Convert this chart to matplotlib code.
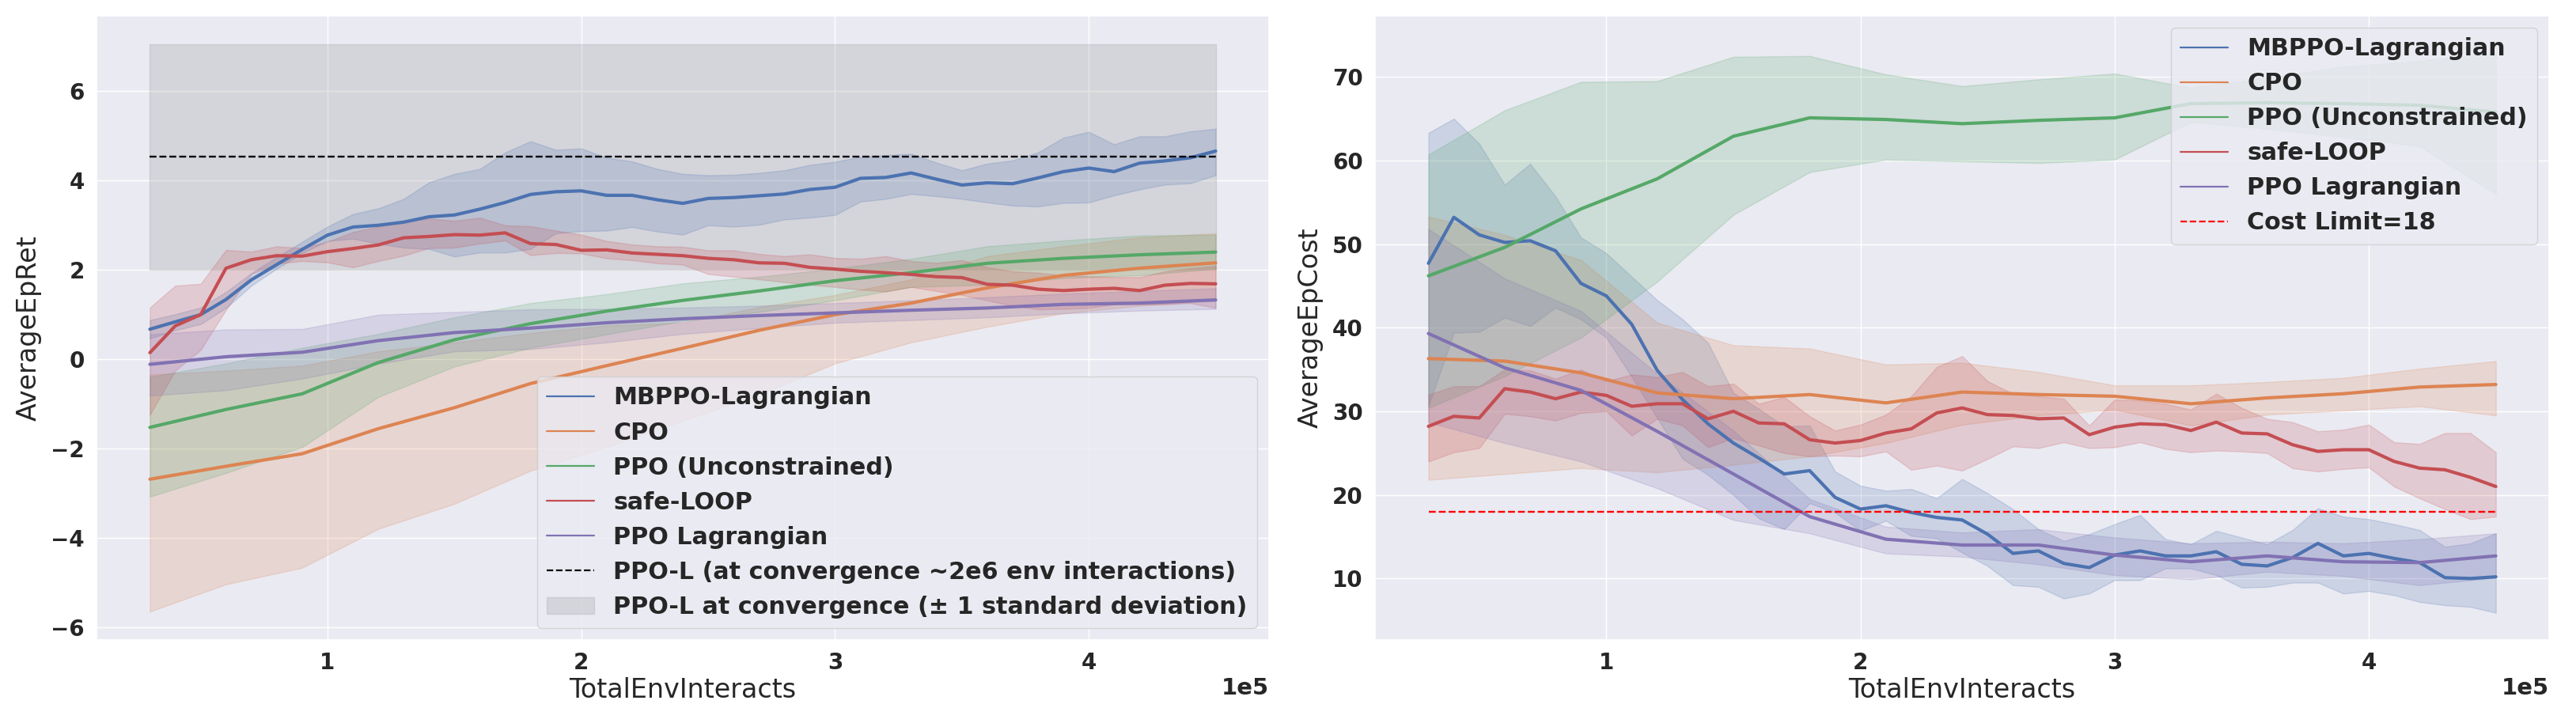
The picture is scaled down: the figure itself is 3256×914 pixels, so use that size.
import matplotlib
matplotlib.use("Agg")
import numpy as np
import matplotlib.pyplot as plt
import seaborn as sns
from matplotlib.lines import Line2D
from matplotlib.patches import Patch

# ---------------- data ----------------
# fine x grid (MBPPO-Lagrangian, safe-LOOP)
x_fine = [30000, 40000, 50000, 60000, 70000, 80000, 90000, 100000, 110000, 120000,
          130000, 140000, 150000, 160000, 170000, 180000, 190000, 200000, 210000, 220000,
          230000, 240000, 250000, 260000, 270000, 280000, 290000, 300000, 310000, 320000,
          330000, 340000, 350000, 360000, 370000, 380000, 390000, 400000, 410000, 420000,
          430000, 440000, 450000]
# coarse x grid (CPO, PPO, PPO Lagrangian)
x_coarse = [30000, 60000, 90000, 120000, 150000, 180000, 210000, 240000, 270000,
            300000, 330000, 360000, 390000, 420000, 450000]

# ---- AverageEpRet ----
mb_ret_mean = [0.665, 0.83, 0.99, 1.33, 1.77, 2.11, 2.45, 2.77, 2.95, 2.99,
               3.06, 3.18, 3.22, 3.35, 3.50, 3.68, 3.74, 3.76, 3.66, 3.66,
               3.56, 3.48, 3.59, 3.61, 3.65, 3.69, 3.79, 3.84, 4.04, 4.06,
               4.16, 4.02, 3.89, 3.94, 3.92, 4.05, 4.19, 4.27, 4.19, 4.38,
               4.43, 4.50, 4.65]
mb_ret_hi = [0.87, 1.0, 1.15, 1.5, 1.92, 2.28, 2.62, 2.96, 3.24, 3.37,
             3.58, 3.95, 4.14, 4.25, 4.62, 4.87, 4.68, 4.71, 4.5, 4.42,
             4.25, 4.14, 4.11, 4.12, 4.16, 4.22, 4.34, 4.41, 4.52, 4.56,
             4.59, 4.39, 4.22, 4.37, 4.44, 4.62, 4.95, 5.08, 4.80, 4.98,
             4.98, 5.09, 5.15]
mb_ret_lo = [0.46, 0.64, 0.78, 1.14, 1.64, 2.02, 2.37, 2.64, 2.69, 2.58,
             2.49, 2.46, 2.29, 2.38, 2.38, 2.46, 2.81, 2.86, 2.87, 2.95,
             2.85, 2.78, 2.99, 2.96, 3.0, 3.12, 3.16, 3.22, 3.52, 3.58,
             3.69, 3.64, 3.58, 3.50, 3.43, 3.41, 3.49, 3.50, 3.66, 3.79,
             3.90, 3.93, 4.11]

sl_ret_mean = [0.14, 0.74, 0.99, 2.03, 2.22, 2.31, 2.30, 2.40, 2.47, 2.55,
               2.71, 2.74, 2.78, 2.77, 2.82, 2.58, 2.56, 2.43, 2.44, 2.37,
               2.34, 2.31, 2.25, 2.22, 2.15, 2.14, 2.05, 2.01, 1.96, 1.93,
               1.89, 1.84, 1.82, 1.67, 1.65, 1.56, 1.53, 1.56, 1.58, 1.53,
               1.65, 1.69, 1.68]
sl_ret_hi = [1.15, 1.64, 1.68, 2.44, 2.40, 2.52, 2.48, 2.62, 2.84, 2.96,
             3.08, 3.14, 3.09, 3.16, 2.99, 2.97, 2.87, 2.78, 2.64, 2.56,
             2.52, 2.51, 2.43, 2.43, 2.35, 2.30, 2.34, 2.26, 2.24, 2.30,
             2.19, 2.15, 2.21, 2.05, 1.96, 1.93, 1.87, 1.85, 1.83, 1.83,
             1.96, 2.03, 2.08]
sl_ret_lo = [-1.25, -0.26, 0.2, 1.1, 1.9, 2.13, 2.19, 2.16, 2.05, 2.19,
             2.31, 2.48, 2.49, 2.58, 2.65, 2.32, 2.37, 2.36, 2.25, 2.21,
             2.14, 2.11, 1.90, 1.84, 1.78, 1.72, 1.66, 1.61, 1.55, 1.51,
             1.61, 1.52, 1.43, 1.31, 1.19, 1.11, 1.12, 1.14, 1.22, 1.22,
             1.22, 1.25, 1.14]

ppo_ret_mean = [-1.53, -1.13, -0.78, -0.08, 0.43, 0.79, 1.07, 1.31, 1.52, 1.75, 1.93, 2.14, 2.25, 2.33, 2.39]
ppo_ret_hi = [-0.4, -0.1, 0.25, 0.56, 0.93, 1.25, 1.45, 1.69, 1.84, 2.02, 2.24, 2.52, 2.65, 2.76, 2.78]
ppo_ret_lo = [-3.08, -2.55, -1.97, -0.85, -0.17, 0.25, 0.55, 0.85, 1.05, 1.31, 1.61, 1.66, 1.81, 1.87, 2.02]

cpo_ret_mean = [-2.69, -2.40, -2.12, -1.56, -1.09, -0.55, -0.15, 0.24, 0.64, 0.99, 1.25, 1.59, 1.87, 2.03, 2.15]
cpo_ret_hi = [-0.35, -0.26, -0.15, 0.17, 0.37, 0.58, 0.75, 0.81, 1.16, 1.43, 1.78, 2.30, 2.52, 2.72, 2.81]
cpo_ret_lo = [-5.65, -5.04, -4.67, -3.80, -3.24, -2.50, -1.97, -1.38, -0.80, -0.1, 0.37, 0.72, 1.02, 1.19, 1.31]

ppol_ret_mean = [-0.12, 0.05, 0.15, 0.41, 0.59, 0.69, 0.81, 0.90, 0.97, 1.03, 1.09, 1.14, 1.22, 1.25, 1.32]
ppol_ret_hi = [0.55, 0.66, 0.67, 0.99, 1.05, 1.11, 1.12, 1.15, 1.19, 1.25, 1.31, 1.38, 1.46, 1.52, 1.58]
ppol_ret_lo = [-0.82, -0.70, -0.44, -0.11, 0.17, 0.22, 0.37, 0.56, 0.69, 0.81, 0.87, 0.93, 1.02, 1.08, 1.12]

# PPO-L at convergence
ppol_conv_mean = 4.52
ppol_conv_std = 2.52

# ---- AverageEpCost ----
mb_cost_mean = [47.7, 53.2, 51.1, 50.2, 50.4, 49.2, 45.3, 43.8, 40.4, 34.9,
                31.4, 28.5, 26.2, 24.4, 22.5, 22.9, 19.7, 18.3, 18.7, 17.9,
                17.3, 17.0, 15.3, 13.0, 13.3, 11.8, 11.3, 12.8, 13.3, 12.7,
                12.7, 13.2, 11.7, 11.5, 12.5, 14.2, 12.7, 13.0, 12.4, 11.9,
                10.1, 10.0, 10.2]
mb_cost_hi = [63.3, 65.0, 62.0, 57.1, 59.6, 55.7, 50.8, 48.9, 46.1, 43.3,
              41.0, 38.2, 32.2, 30.3, 28.2, 28.3, 22.8, 21.1, 20.5, 20.7,
              19.6, 21.9, 20.2, 18.3, 15.9, 14.5, 15.3, 16.5, 17.6, 14.7,
              14.1, 15.7, 14.9, 14.1, 15.8, 18.4, 17.4, 17.1, 16.5, 15.8,
              13.8, 14.2, 15.4]
mb_cost_lo = [30.6, 39.4, 39.5, 41.2, 40.2, 42.4, 41.0, 38.8, 34.1, 29.2,
              24.3, 22.4, 20.0, 17.2, 15.9, 19.0, 17.9, 15.7, 16.9, 15.1,
              14.8, 13.1, 11.5, 9.2, 9.0, 7.6, 8.2, 9.8, 9.8, 11.2,
              11.2, 10.4, 8.9, 9.0, 9.5, 9.5, 8.2, 8.5, 8.0, 7.2,
              6.8, 6.6, 5.9]

sl_cost_mean = [28.2, 29.4, 29.2, 32.7, 32.3, 31.5, 32.3, 31.9, 30.6, 30.9,
                30.9, 29.1, 30.0, 28.6, 28.5, 26.6, 26.2, 26.5, 27.4, 27.9,
                29.8, 30.4, 29.6, 29.5, 29.1, 29.2, 27.2, 28.1, 28.5, 28.4,
                27.7, 28.7, 27.4, 27.3, 26.0, 25.2, 25.4, 25.4, 24.0, 23.2,
                23.0, 22.1, 21.0]
sl_cost_hi = [32.0, 33.0, 33.0, 35.0, 34.9, 33.9, 35.0, 33.6, 34.4, 34.1,
              34.7, 33.0, 33.3, 30.9, 31.7, 29.4, 27.7, 28.4, 29.6, 31.8,
              35.3, 36.6, 33.6, 32.1, 31.8, 31.5, 28.3, 31.4, 31.3, 30.9,
              30.2, 32.1, 30.4, 29.1, 28.7, 27.6, 27.8, 28.4, 26.3, 26.1,
              27.4, 27.4, 25.1]
sl_cost_lo = [24.0, 25.1, 25.6, 29.7, 29.4, 28.9, 29.8, 30.0, 27.1, 29.1,
              28.3, 25.7, 26.8, 25.9, 25.0, 24.6, 24.7, 24.6, 25.2, 23.0,
              23.5, 22.9, 24.3, 25.8, 25.6, 26.3, 25.6, 25.7, 26.3, 25.5,
              25.1, 25.3, 25.2, 25.0, 23.2, 22.8, 23.1, 23.3, 21.0, 19.6,
              18.3, 17.1, 17.4]

ppo_cost_mean = [46.2, 49.6, 54.2, 57.8, 62.9, 65.1, 64.9, 64.4, 64.8, 65.1, 66.8, 66.9, 66.8, 66.6, 65.8]
ppo_cost_hi = [60.7, 66.0, 69.4, 69.5, 72.4, 72.5, 70.3, 68.9, 69.7, 70.4, 68.7, 69.9, 71.2, 71.9, 72.9]
ppo_cost_lo = [30.4, 34.2, 38.8, 45.5, 53.5, 58.6, 60.1, 59.9, 59.7, 60.1, 64.6, 63.8, 62.8, 61.7, 56.0]

cpo_cost_mean = [36.3, 36.0, 34.6, 32.2, 31.5, 32.0, 31.0, 32.3, 32.0, 31.8, 30.9, 31.6, 32.1, 32.9, 33.2]
cpo_cost_hi = [53.3, 51.1, 48.1, 40.6, 37.9, 37.5, 35.6, 35.8, 34.7, 33.1, 33.1, 33.5, 34.0, 35.1, 36.0]
cpo_cost_lo = [21.8, 22.5, 23.2, 22.7, 23.6, 24.6, 26.2, 28.4, 29.5, 30.2, 28.3, 29.6, 30.1, 30.6, 29.5]

ppol_cost_mean = [39.3, 35.2, 32.5, 27.6, 22.5, 17.4, 14.7, 14.0, 14.0, 12.8, 12.0, 12.7, 12.0, 11.9, 12.7]
ppol_cost_hi = [51.8, 45.9, 42.0, 34.5, 27.7, 19.5, 16.2, 15.5, 15.9, 14.9, 14.2, 14.4, 14.2, 14.7, 15.4]
ppol_cost_lo = [28.7, 26.2, 24.0, 20.8, 17.0, 15.4, 13.0, 12.6, 11.7, 10.4, 9.9, 10.8, 10.3, 9.2, 10.1]

cost_limit = 18

labels = ["MBPPO-Lagrangian", "CPO", "PPO (Unconstrained)", "safe-LOOP", "PPO Lagrangian"]

# ---------------- style ----------------
sns.set_theme(style="darkgrid")
plt.rcParams["font.family"] = ["DejaVu Sans"]
plt.rcParams["font.weight"] = "bold"
plt.rcParams["xtick.labelsize"] = 20
plt.rcParams["ytick.labelsize"] = 20

pal = sns.color_palette("deep")
c_mb, c_cpo, c_ppo, c_sl, c_ppol = pal[0], pal[1], pal[2], pal[3], pal[4]

fig = plt.figure(figsize=(32.56, 9.14), dpi=100)
ax1 = fig.add_axes([0.0375, 0.1149, 0.4551, 0.8632])
ax2 = fig.add_axes([0.5338, 0.1149, 0.4558, 0.8632])

LW = 3.0
LEG_FS = 21.7


def band(ax, x, m, lo, hi, c):
    ax.fill_between(x, lo, hi, color=c, alpha=0.2)
    ax.plot(x, m, color=c, lw=LW)


# ---- left: return ----
xf = np.array(x_fine)
ax1.fill_between([xf.min(), xf.max()], ppol_conv_mean - ppol_conv_std,
                 ppol_conv_mean + ppol_conv_std, color="gray", alpha=0.2)
band(ax1, x_fine, mb_ret_mean, mb_ret_lo, mb_ret_hi, c_mb)
band(ax1, x_coarse, cpo_ret_mean, cpo_ret_lo, cpo_ret_hi, c_cpo)
band(ax1, x_coarse, ppo_ret_mean, ppo_ret_lo, ppo_ret_hi, c_ppo)
band(ax1, x_fine, sl_ret_mean, sl_ret_lo, sl_ret_hi, c_sl)
band(ax1, x_coarse, ppol_ret_mean, ppol_ret_lo, ppol_ret_hi, c_ppol)
ax1.hlines(ppol_conv_mean, xf.min(), xf.max(), colors="black", linestyles="--", lw=1.7)

# ---- right: cost ----
band(ax2, x_fine, mb_cost_mean, mb_cost_lo, mb_cost_hi, c_mb)
band(ax2, x_coarse, cpo_cost_mean, cpo_cost_lo, cpo_cost_hi, c_cpo)
band(ax2, x_coarse, ppo_cost_mean, ppo_cost_lo, ppo_cost_hi, c_ppo)
band(ax2, x_fine, sl_cost_mean, sl_cost_lo, sl_cost_hi, c_sl)
band(ax2, x_coarse, ppol_cost_mean, ppol_cost_lo, ppol_cost_hi, c_ppol)
ax2.hlines(cost_limit, xf.min(), xf.max(), colors="red", linestyles="--", lw=1.7)
ax2.set_ylim(2.65, 77.3)

cols = [c_mb, c_cpo, c_ppo, c_sl, c_ppol]

h1 = [Line2D([], [], color=c, lw=1.6) for c in cols] + [
    Line2D([], [], color="black", ls="--", lw=1.6),
    Patch(facecolor="gray", alpha=0.2, edgecolor="gray")]
l1 = labels + ["PPO-L (at convergence ~2e6 env interactions)",
               "PPO-L at convergence (± 1 standard deviation)"]
ax1.legend(h1, l1, loc="lower right", prop={"weight": "bold", "size": LEG_FS})

h2 = [Line2D([], [], color=c, lw=1.6) for c in cols] + [Line2D([], [], color="red", ls="--", lw=1.6)]
l2 = labels + ["Cost Limit=18"]
ax2.legend(h2, l2, loc="upper right", prop={"weight": "bold", "size": LEG_FS})

for ax, yl in ((ax1, "AverageEpRet"), (ax2, "AverageEpCost")):
    ax.set_xlabel("TotalEnvInteracts", fontsize=24, fontweight="normal", labelpad=3)
    ax.set_ylabel(yl, fontsize=24, fontweight="normal", labelpad=8)
    ax.ticklabel_format(axis="x", style="sci", scilimits=(0, 0))
    ax.tick_params(axis="x", labelsize=20, length=0, pad=11)
    ax.tick_params(axis="y", labelsize=20, length=0, pad=11)
    off = ax.xaxis.get_offset_text()
    off.set_fontsize(21)
    off.set_fontweight("bold")

fig.savefig("out.png", dpi=100)
